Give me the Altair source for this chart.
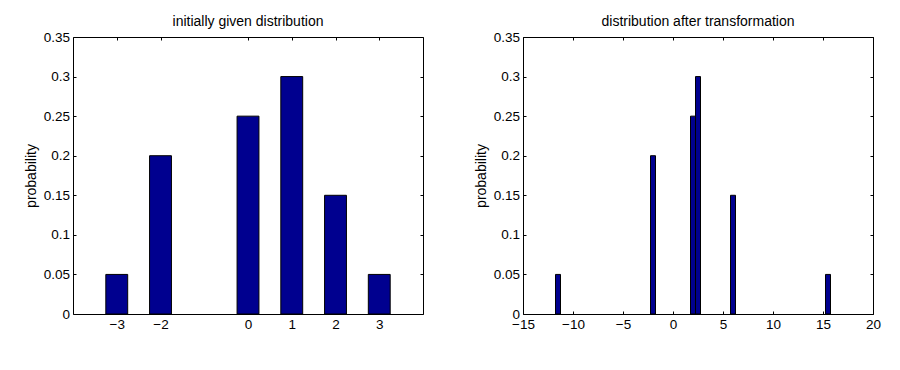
import altair as alt
import pandas as pd

# data
outcomes = [-3, -2, 0, 1, 2, 3]
probabilities = [0.05, 0.2, 0.25, 0.3, 0.15, 0.05]
transformed = [-11.5, -2, 2, 2.5, 6, 15.5]

left_ticks = [-3, -2, 0, 1, 2, 3]
right_ticks = [-15, -10, -5, 0, 5, 10, 15, 20]
y_ticks = [0, 0.05, 0.1, 0.15, 0.2, 0.25, 0.3, 0.35]

left_title = "initially given distribution"
right_title = "distribution after transformation"
y_label = "probability"

FONT = "Liberation Sans"
BAR_COLOR = "#00008F"
W, H = 350, 277


def panel(xvals, domain, xticks, title, half_width):
    df = pd.DataFrame({"x": xvals, "p": probabilities})
    base = alt.Chart(df).transform_calculate(
        x0=f"datum.x - {half_width}", x1=f"datum.x + {half_width}"
    )
    xs = alt.Scale(domain=domain, nice=False, zero=False)
    ys = alt.Scale(domain=[0, 0.35], nice=False)
    bars = base.mark_rect(fill=BAR_COLOR, stroke="black", strokeWidth=1).encode(
        x=alt.X("x0:Q", scale=xs,
                axis=alt.Axis(values=xticks, orient="bottom", title=None,
                              offset=-3, tickSize=3, domain=False, grid=False,
                              labelPadding=3, format="d", labelFlush=False)),
        x2="x1:Q",
        y=alt.Y("p:Q", scale=ys,
                axis=alt.Axis(values=y_ticks, orient="left", title=y_label,
                              offset=-3, tickSize=3, domain=False, grid=False,
                              labelPadding=3.5, format=".2~f", titlePadding=5,
                              labelFlush=False)),
        y2=alt.datum(0),
    )
    mirror = base.mark_rect(opacity=0).encode(
        x=alt.X("x0:Q", scale=xs,
                axis=alt.Axis(values=xticks, orient="top", title=None,
                              offset=-3, tickSize=3, domain=False, grid=False,
                              labels=False)),
        x2="x1:Q",
        y=alt.Y("p:Q", scale=ys,
                axis=alt.Axis(values=y_ticks, orient="right", title=None,
                              offset=-3, tickSize=3, domain=False, grid=False,
                              labels=False)),
        y2=alt.datum(0),
    )
    return alt.layer(bars, mirror).resolve_axis(x="independent", y="independent").properties(
        width=W, height=H,
        title=alt.TitleParams(title, fontSize=14, font=FONT, fontWeight="normal",
                              color="black", offset=1),
    )


left = panel(outcomes, [-4, 4], left_ticks, left_title, 0.25)
right = panel(transformed, [-15, 20], right_ticks, right_title, 0.25)

chart = alt.hconcat(left, right, spacing=49).properties(
    padding={"left": 15, "top": 6, "right": 5, "bottom": 5},
    background="white",
).configure_view(stroke="black", strokeWidth=1).configure_axis(
    labelFont=FONT, labelFontSize=13.5, labelColor="black", tickColor="black",
    titleFont=FONT, titleFontSize=14, titleFontWeight="normal", titleColor="black",
)

chart.save("out.html", embed_options={"renderer": "svg", "actions": False})
